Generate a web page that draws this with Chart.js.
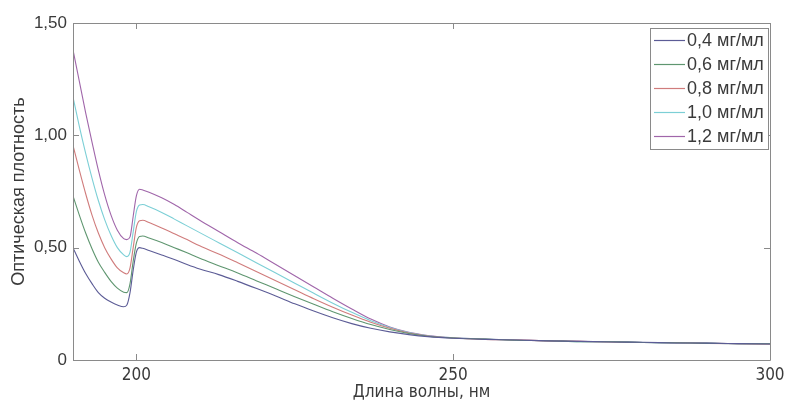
<!DOCTYPE html>
<html lang="ru">
<head>
<meta charset="utf-8">
<title>Оптическая плотность</title>
<script src="https://cdn.jsdelivr.net/npm/chart.js@4/dist/chart.umd.min.js"></script>
<style>
  html, body { margin: 0; padding: 0; background: #ffffff; }
  #wrap { width: 790px; height: 403px; position: relative; }
</style>
</head>
<body>
<div id="wrap"><canvas id="spectra" width="790" height="403"></canvas></div>
<script>
// Wavelength grid, nm
const wavelengths = [190,191,192,193,194,195,196,197,198,198.5,199,199.5,200,200.5,201,
  202,204,206,208,210,213,216,219,222,225,228,231,234,237,240,243,246,
  250,255,260,265,270,275,280,285,290,295,300];

// Optical density for each concentration
const od04 = [0.50,0.44,0.385,0.34,0.30,0.275,0.258,0.245,0.237,
  0.245,0.30,0.40,0.48,0.50,0.497,
  0.487,0.467,0.447,0.425,0.405,
  0.38,0.35,0.318,0.285,0.25,0.218,0.188,0.162,0.141,0.125,0.113,0.104,
  0.097,0.092,0.089,0.085,0.083,0.080,0.079,0.076,0.075,0.073,0.071];
const od06 = [0.73,0.645,0.565,0.495,0.435,0.39,0.35,0.32,0.302,
  0.30,0.34,0.44,0.52,0.55,0.552,
  0.543,0.523,0.50,0.477,0.453,
  0.42,0.387,0.352,0.317,0.282,0.248,0.215,0.185,0.158,0.136,0.118,0.106,
  0.098,0.093,0.088,0.086,0.082,0.081,0.078,0.077,0.074,0.073,0.072];
const od08 = [0.955,0.845,0.74,0.645,0.565,0.50,0.45,0.41,0.388,
  0.383,0.41,0.50,0.59,0.62,0.622,
  0.612,0.588,0.562,0.536,0.508,
  0.472,0.433,0.393,0.353,0.313,0.273,0.235,0.20,0.168,0.141,0.12,0.107,
  0.098,0.092,0.089,0.085,0.083,0.080,0.078,0.077,0.074,0.072,0.071];
const od10 = [1.17,1.04,0.92,0.81,0.71,0.625,0.555,0.50,0.468,
  0.46,0.48,0.57,0.66,0.69,0.692,
  0.682,0.657,0.627,0.597,0.567,
  0.522,0.477,0.432,0.387,0.342,0.297,0.253,0.212,0.175,0.145,0.122,0.108,
  0.099,0.093,0.088,0.086,0.082,0.081,0.078,0.076,0.075,0.072,0.072];
const od12 = [1.38,1.24,1.10,0.97,0.845,0.735,0.645,0.578,0.54,
  0.536,0.548,0.64,0.73,0.76,0.757,
  0.747,0.722,0.692,0.657,0.622,
  0.572,0.522,0.475,0.425,0.375,0.325,0.275,0.227,0.182,0.147,0.123,0.109,
  0.099,0.093,0.089,0.085,0.083,0.081,0.078,0.076,0.075,0.073,0.071];

const seriesLabels = ['0,4 мг/мл','0,6 мг/мл','0,8 мг/мл','1,0 мг/мл','1,2 мг/мл'];
const seriesValues = [od04, od06, od08, od10, od12];
const seriesColors = ['#5c5c96','#5f9670','#d07c7c','#7ccfd6','#a066aa'];

const xTickValues = [200, 250, 300];
const yTickValues = [0, 0.5, 1.0, 1.5];

const axisColor = '#8a8a8a';
const textColor = '#3a3a3a';
const condensed = '"DejaVu Sans Condensed", "Liberation Sans", Arial, sans-serif';
const regular = '"Liberation Sans", Arial, sans-serif';

function fmtComma(v) {
  return v === 0 ? '0' : v.toFixed(2).replace('.', ',');
}

// Box frame with inward ticks on all four sides
const frameTicks = {
  id: 'frameTicks',
  afterDatasetsDraw(chart) {
    const { ctx, chartArea: a, scales: { x, y } } = chart;
    ctx.save();
    ctx.strokeStyle = axisColor;
    ctx.lineWidth = 1;
    ctx.beginPath();
    ctx.rect(Math.round(a.left) + 0.5, Math.round(a.top) + 0.5,
             Math.round(a.right - a.left), Math.round(a.bottom - a.top));
    ctx.stroke();
    const len = 6;
    ctx.beginPath();
    xTickValues.forEach(v => {
      const px = Math.round(x.getPixelForValue(v)) + 0.5;
      ctx.moveTo(px, a.bottom); ctx.lineTo(px, a.bottom - len);
      ctx.moveTo(px, a.top); ctx.lineTo(px, a.top + len);
    });
    yTickValues.forEach(v => {
      const py = Math.round(y.getPixelForValue(v)) + 0.5;
      ctx.moveTo(a.left, py); ctx.lineTo(a.left + len, py);
      ctx.moveTo(a.right, py); ctx.lineTo(a.right - len, py);
    });
    ctx.stroke();
    ctx.restore();
  }
};

// Boxed legend in the upper right corner of the plot
const boxLegend = {
  id: 'boxLegend',
  afterDraw(chart) {
    const { ctx, chartArea: a } = chart;
    const right = a.right - 2, left = right - 118, top = a.top + 5, rowH = 24;
    const ds = chart.data.datasets;
    ctx.save();
    ctx.fillStyle = '#ffffff';
    ctx.fillRect(left, top, right - left, rowH * ds.length + 1);
    ctx.strokeStyle = axisColor;
    ctx.lineWidth = 1;
    ctx.strokeRect(left + 0.5, top + 0.5, right - left, rowH * ds.length + 1);
    ctx.font = '18px ' + regular;
    ctx.textBaseline = 'middle';
    ctx.textAlign = 'left';
    ds.forEach((d, i) => {
      const cy = top + 12.5 + rowH * i;
      ctx.strokeStyle = d.borderColor;
      ctx.lineWidth = 1.2;
      ctx.beginPath();
      ctx.moveTo(left + 4, cy); ctx.lineTo(left + 35, cy);
      ctx.stroke();
      ctx.fillStyle = textColor;
      ctx.fillText(d.label, left + 37, cy + 1);
    });
    ctx.restore();
  }
};

const datasets = seriesValues.map((vals, i) => ({
  label: seriesLabels[i],
  data: wavelengths.map((w, j) => ({ x: w, y: vals[j] })),
  borderColor: seriesColors[i],
  backgroundColor: seriesColors[i],
  borderWidth: 1.1,
  pointRadius: 0,
  fill: false,
  cubicInterpolationMode: 'monotone'
}));

new Chart(document.getElementById('spectra'), {
  type: 'line',
  data: { datasets },
  options: {
    responsive: false,
    animation: false,
    layout: { padding: { top: 23, right: 20, left: 0, bottom: 0 } },
    plugins: { legend: { display: false }, tooltip: { enabled: false } },
    scales: {
      x: {
        type: 'linear', min: 190, max: 300,
        grid: { display: false, drawTicks: false },
        border: { display: false },
        afterBuildTicks: s => { s.ticks = xTickValues.map(v => ({ value: v })); },
        afterFit: s => { s.height = 43; },
        ticks: {
          padding: 5, color: textColor, maxRotation: 0,
          font: { family: condensed, size: 17 },
          callback: v => String(v)
        },
        title: {
          display: true, text: 'Длина волны, нм', color: textColor,
          font: { family: condensed, size: 17 },
          padding: { top: 0, bottom: 0 }
        }
      },
      y: {
        min: 0, max: 1.5,
        grid: { display: false, drawTicks: false },
        border: { display: false },
        afterBuildTicks: s => { s.ticks = yTickValues.map(v => ({ value: v })); },
        afterFit: s => { s.width = 73; },
        ticks: {
          padding: 6, color: textColor,
          font: { family: regular, size: 17 },
          callback: v => fmtComma(v)
        },
        title: {
          display: true, text: 'Оптическая плотность', color: textColor,
          font: { family: regular, size: 18 },
          padding: { top: 8, bottom: 0 }
        }
      }
    }
  },
  plugins: [frameTicks, boxLegend]
});
</script>
</body>
</html>
